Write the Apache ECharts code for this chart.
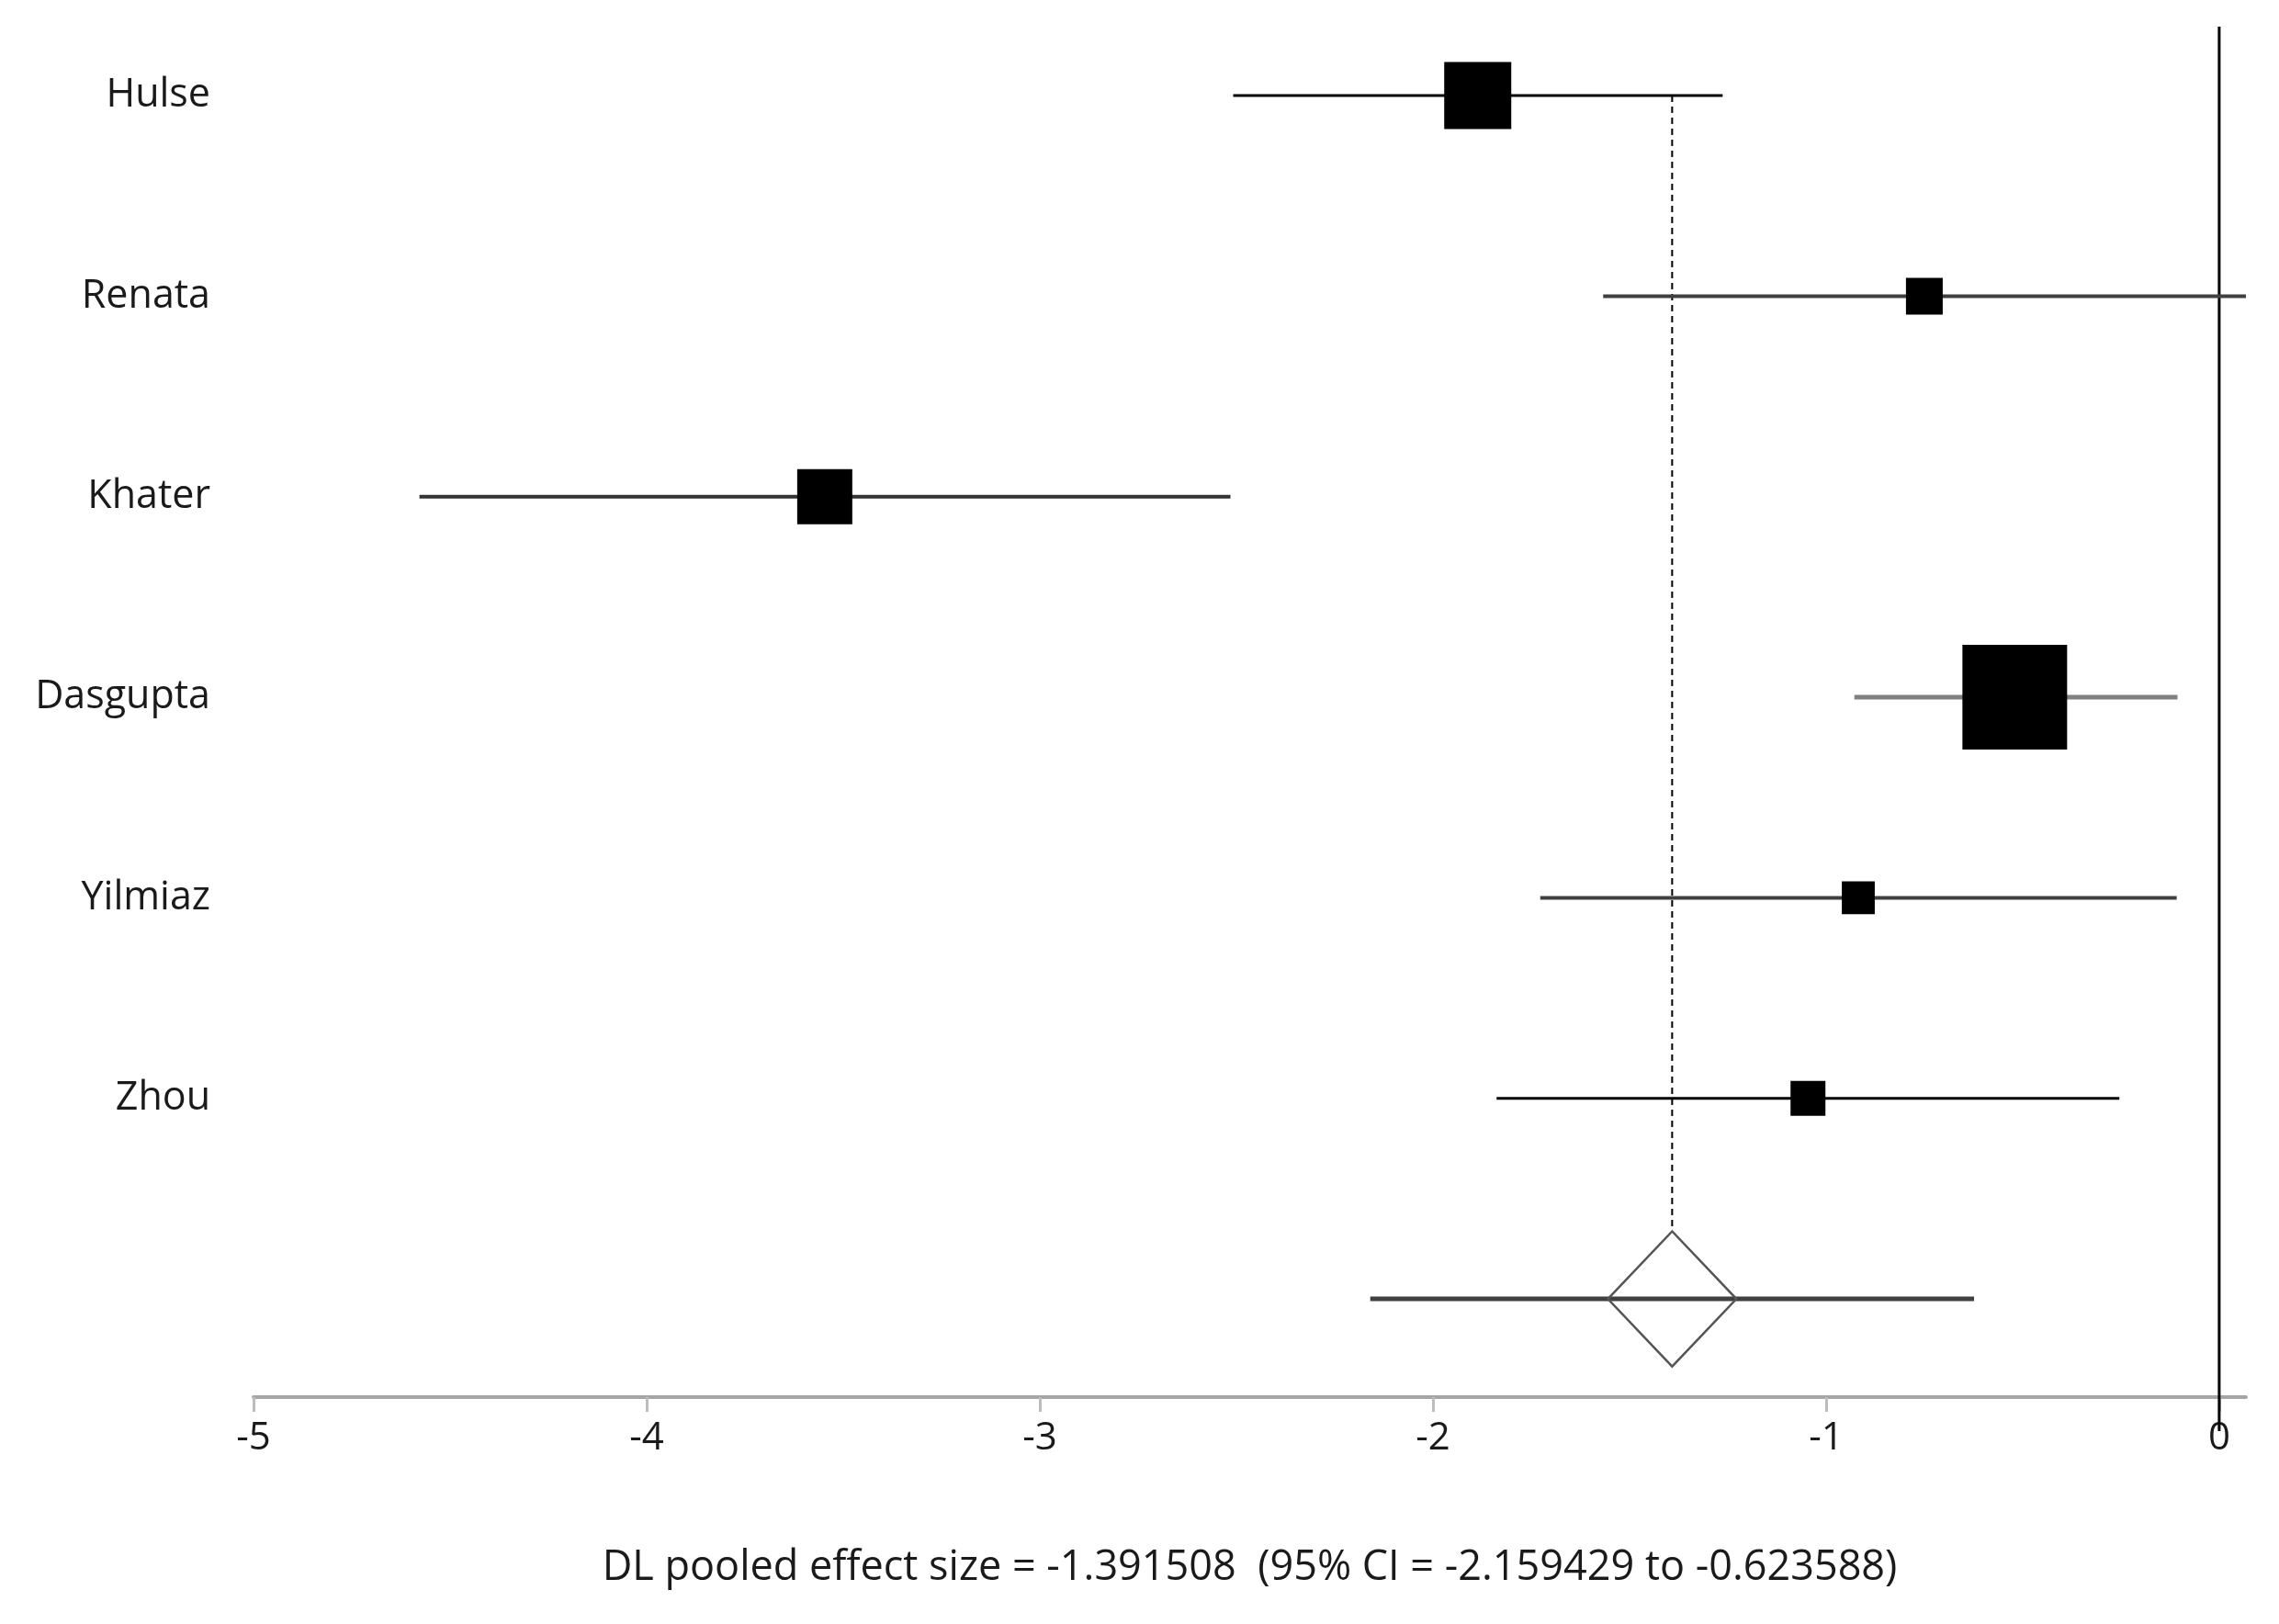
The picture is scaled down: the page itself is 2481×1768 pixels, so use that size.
<!DOCTYPE html>
<html>
<head>
<meta charset="utf-8">
<script src="https://cdn.jsdelivr.net/npm/echarts@6/dist/echarts.min.js"></script>
<style>
html,body{margin:0;padding:0;background:#fff;}
#chart{width:2481px;height:1768px;}
</style>
</head>
<body>
<div id="chart"></div>
<script>
// ---------------- data ----------------
const studies   = ['Hulse', 'Renata', 'Khater', 'Dasgupta', 'Yilmiaz', 'Zhou'];
const effect    = [-1.886, -0.750, -3.547, -0.520, -0.918, -1.046];
const ciLower   = [-2.508, -1.567, -4.578, -0.928, -1.727, -1.838];
const ciUpper   = [-1.263,  0.068, -2.515, -0.106, -0.108, -0.254];
const weights   = [20.3, 6.1, 13.7, 49.5, 4.9, 5.5];
const pooledEffect = -1.391508;
const pooledLower  = -2.159429;
const pooledUpper  = -0.623588;
const diamondLower = -1.555;
const diamondUpper = -1.228;
const xTicks = [-5, -4, -3, -2, -1, 0];

// ---------------- styles / layout ----------------
const ciColors = ['#000000', '#404040', '#333333', '#808080', '#404040', '#000000'];
const ciWidths = [3, 4, 4, 5, 4, 3];
const pooledCiColor = '#404040';
const FONT = '"Open Sans", "Noto Sans", sans-serif';
const FS = 42;
const nRows = studies.length;            // study i sits at y = nRows - i ; pooled at y = 0
const rowY = studies.map((s, i) => nRows - i);
const yMin = -0.49, yMax = 6.344;
const diamondHalfH = 0.337;
const boxScale = 16.2;

const ciData = studies.map((s, i) => [ciLower[i], ciUpper[i], rowY[i], i]);
ciData.push([pooledLower, pooledUpper, 0, -1]);

const pointData = studies.map((s, i) => [effect[i], rowY[i]]);

const chart = echarts.init(document.getElementById('chart'), null, {renderer: 'canvas'});

const option = {
  backgroundColor: '#ffffff',
  animation: false,
  grid: {left: 276, right: 36, top: 29, bottom: 247, containLabel: false, outerBoundsMode: 'none'},
  xAxis: {
    type: 'value',
    min: -5,
    max: 0.068,
    position: 'bottom',
    splitLine: {show: false},
    axisLine: {show: true, onZero: false, lineStyle: {color: '#a6a6a6', width: 4}},
    axisTick: {show: true, customValues: xTicks, length: 16, lineStyle: {color: '#bdbdbd', width: 3}},
    axisLabel: {
      customValues: xTicks,
      fontFamily: FONT, fontSize: FS, color: '#1a1a1a', margin: 24,
      formatter: v => String(v)
    },
    name: 'DL pooled effect size = ' + pooledEffect + '  (95% CI = ' + pooledLower + ' to ' + pooledUpper + ')',
    nameLocation: 'middle',
    nameGap: 164,
    nameTextStyle: {fontFamily: FONT, fontSize: 45, color: '#1a1a1a'}
  },
  yAxis: {
    type: 'value',
    min: yMin,
    max: yMax,
    splitLine: {show: false},
    axisLine: {show: false},
    axisTick: {show: false},
    axisLabel: {
      customValues: rowY,
      fontFamily: FONT, fontSize: 43, color: '#1a1a1a', margin: 47,
      formatter: v => studies[nRows - Math.round(v)] || ''
    }
  },
  series: [
    {
      type: 'line',
      data: [[0, yMax], [0, -0.66]],
      clip: false,
      symbol: 'none',
      lineStyle: {color: '#000', width: 3},
      z: 1
    },
    {
      type: 'line',
      data: [[pooledEffect, rowY[0]], [pooledEffect, diamondHalfH]],
      symbol: 'none',
      lineStyle: {color: '#000', width: 2, type: [7, 5]},
      z: 2
    },
    {
      type: 'custom',
      data: ciData,
      encode: {x: [0, 1], y: 2},
      renderItem: function (params, api) {
        const p1 = api.coord([api.value(0), api.value(2)]);
        const p2 = api.coord([api.value(1), api.value(2)]);
        const idx = api.value(3);
        const color = idx >= 0 ? ciColors[idx] : pooledCiColor;
        const w = idx >= 0 ? ciWidths[idx] : 5;
        return {
          type: 'line',
          shape: {x1: p1[0], y1: p1[1], x2: p2[0], y2: p2[1]},
          style: {stroke: color, lineWidth: w}
        };
      },
      z: 3
    },
    {
      type: 'custom',
      data: [[diamondLower, diamondUpper, pooledEffect, 0]],
      encode: {x: [0, 1], y: 3},
      renderItem: function (params, api) {
        const y0 = api.value(3);
        const pts = [
          api.coord([api.value(0), y0]),
          api.coord([api.value(2), y0 + diamondHalfH]),
          api.coord([api.value(1), y0]),
          api.coord([api.value(2), y0 - diamondHalfH])
        ];
        return {
          type: 'polygon',
          shape: {points: pts},
          style: {fill: 'none', stroke: '#555555', lineWidth: 2.5}
        };
      },
      z: 4
    },
    {
      type: 'scatter',
      data: pointData,
      symbol: 'rect',
      symbolSize: function (val, params) {
        return boxScale * Math.sqrt(weights[params.dataIndex]);
      },
      itemStyle: {color: '#000', opacity: 1},
      z: 5
    }
  ]
};
chart.setOption(option);
</script>
</body>
</html>
